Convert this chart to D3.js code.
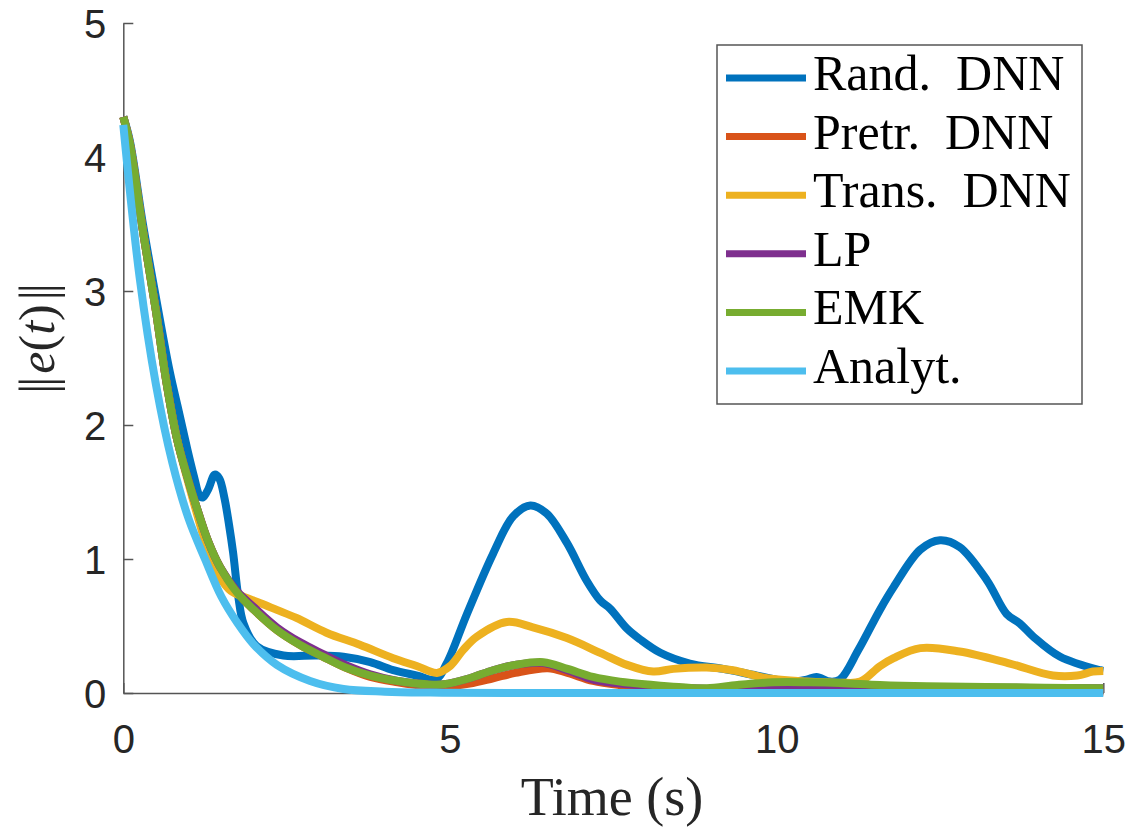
<!DOCTYPE html>
<html>
<head>
<meta charset="utf-8">
<script src="https://cdn.jsdelivr.net/npm/d3@7"></script>
<style>
  html, body { margin: 0; padding: 0; background: #fff; }
  svg { display: block; }
</style>
</head>
<body>
<div id="chart"></div>
<script>
// Values, one time array and one value array per series
var tRand = [0, 0.1, 0.3, 0.5, 0.71, 0.85, 0.97, 1.08, 1.17, 1.22, 1.3, 1.4, 1.47, 1.55, 1.62, 1.68, 1.76, 1.84, 2.04, 2.45, 2.96, 3.37, 3.78, 4.13, 4.5, 4.78, 4.95, 5.26, 5.66, 5.97, 6.23, 6.48, 6.79, 7.09, 7.3, 7.45, 7.71, 7.91, 8.22, 8.67, 9.18, 9.7, 10.2, 10.46, 10.61, 10.82, 10.97, 11.25, 11.58, 11.79, 12.2, 12.5, 12.8, 13.22, 13.52, 13.72, 13.93, 14.34, 14.95, 15];
var vRand = [4.3, 4.12, 3.5, 2.95, 2.4, 2.1, 1.84, 1.62, 1.47, 1.46, 1.52, 1.63, 1.6, 1.45, 1.25, 1.05, 0.72, 0.52, 0.35, 0.28, 0.28, 0.27, 0.23, 0.17, 0.13, 0.1, 0.22, 0.59, 1.04, 1.32, 1.4, 1.34, 1.12, 0.84, 0.69, 0.63, 0.48, 0.4, 0.3, 0.22, 0.18, 0.13, 0.085, 0.1, 0.12, 0.085, 0.1, 0.32, 0.62, 0.79, 1.07, 1.14, 1.09, 0.84, 0.59, 0.52, 0.42, 0.27, 0.17, 0.165];

var tPretr = [0, 0.1, 0.3, 0.5, 0.65, 0.82, 1.0, 1.12, 1.3, 1.48, 1.74, 2.0, 2.35, 2.7, 3.06, 3.4, 3.78, 4.2, 4.65, 4.9, 5.3, 5.66, 6.0, 6.5, 6.8, 7.19, 7.6, 8.11, 9.0, 10.0, 12.0, 15];
var vPretr = [4.3, 4.1, 3.45, 2.85, 2.35, 1.9, 1.58, 1.39, 1.13, 0.94, 0.75, 0.62, 0.47, 0.36, 0.27, 0.19, 0.12, 0.08, 0.05, 0.045, 0.07, 0.11, 0.15, 0.185, 0.15, 0.09, 0.06, 0.04, 0.025, 0.02, 0.015, 0.01];

var tTrans = [0, 0.1, 0.3, 0.5, 0.65, 0.82, 1.0, 1.12, 1.3, 1.48, 1.65, 1.83, 2.1, 2.35, 2.65, 3.11, 3.62, 4.13, 4.5, 4.8, 5.0, 5.2, 5.41, 5.87, 6.27, 6.79, 7.3, 7.71, 8.11, 8.42, 8.93, 9.33, 9.85, 10.46, 10.97, 11.28, 11.58, 11.79, 12.2, 12.8, 13.57, 14.23, 14.6, 14.84, 15];
var vTrans = [4.3, 4.1, 3.45, 2.85, 2.35, 1.9, 1.56, 1.35, 1.06, 0.86, 0.76, 0.72, 0.67, 0.62, 0.56, 0.45, 0.36, 0.26, 0.2, 0.15, 0.2, 0.32, 0.42, 0.53, 0.49, 0.41, 0.3, 0.21, 0.16, 0.18, 0.19, 0.17, 0.11, 0.085, 0.077, 0.085, 0.2, 0.26, 0.335, 0.31, 0.22, 0.13, 0.13, 0.16, 0.165];

var tLP = [0, 0.1, 0.3, 0.5, 0.65, 0.82, 1.0, 1.12, 1.3, 1.48, 1.74, 2.0, 2.35, 2.7, 3.06, 3.4, 3.78, 4.2, 4.65, 4.9, 5.3, 5.66, 6.0, 6.4, 6.8, 7.19, 7.6, 8.11, 9.0, 10.0, 11.0, 12.0, 13.0, 15];
var vLP = [4.3, 4.1, 3.45, 2.85, 2.35, 1.9, 1.58, 1.39, 1.13, 0.94, 0.76, 0.64, 0.49, 0.38, 0.29, 0.21, 0.14, 0.09, 0.065, 0.065, 0.11, 0.17, 0.21, 0.225, 0.17, 0.1, 0.07, 0.05, 0.03, 0.035, 0.04, 0.04, 0.04, 0.035];

var tEMK = [0, 0.1, 0.3, 0.5, 0.65, 0.82, 1.0, 1.12, 1.3, 1.48, 1.74, 2.0, 2.35, 2.7, 3.06, 3.4, 3.78, 4.2, 4.65, 4.9, 5.3, 5.66, 6.0, 6.43, 6.8, 7.19, 7.6, 8.11, 8.5, 8.93, 9.4, 9.95, 10.5, 10.97, 11.58, 12.3, 13.2, 14.1, 15];
var vEMK = [4.3, 4.1, 3.45, 2.85, 2.35, 1.9, 1.58, 1.39, 1.13, 0.94, 0.75, 0.62, 0.47, 0.36, 0.27, 0.19, 0.13, 0.09, 0.065, 0.065, 0.11, 0.17, 0.21, 0.23, 0.18, 0.12, 0.085, 0.06, 0.045, 0.035, 0.06, 0.08, 0.08, 0.075, 0.06, 0.05, 0.045, 0.04, 0.035];

var tAnalyt = [0, 0.25, 0.5, 0.75, 1.0, 1.25, 1.5, 1.75, 2.0, 2.35, 2.86, 3.37, 4.0, 4.7, 6.0, 15];
var vAnalyt = [4.24, 3.1, 2.3, 1.72, 1.3, 1.0, 0.72, 0.52, 0.36, 0.21, 0.09, 0.03, 0.01, 0.003, 0, 0];

var seriesNames = ['Rand.  DNN', 'Pretr.  DNN', 'Trans.  DNN', 'LP', 'EMK', 'Analyt.'];
var seriesTimes = [tRand, tPretr, tTrans, tLP, tEMK, tAnalyt];
var seriesValues = [vRand, vPretr, vTrans, vLP, vEMK, vAnalyt];
// MATLAB default line colours
var colors = ['#0072BD', '#D95319', '#EDB120', '#7E2F8E', '#77AC30', '#4DBEEE'];

var xTicks = [0, 5, 10, 15];
var yTicks = [0, 1, 2, 3, 4, 5];

(function() {
  var width = 1134, height = 832;
  var svg = d3.select('#chart').append('svg')
    .attr('width', width)
    .attr('height', height);

  // Plot box
  var plotLeft = 123.3, plotRight = 1103.3, plotTop = 23, plotBottom = 693;
  var x = d3.scaleLinear().domain([0, 15]).range([plotLeft, plotRight]);
  var y = d3.scaleLinear().domain([0, 5]).range([plotBottom, plotTop]);

  var axisColor = '#555';
  var tickFont = '"Liberation Sans", Arial, Helvetica, sans-serif';
  var serifFont = '"Liberation Serif", "Times New Roman", serif';

  // Axes: ticks pointing inwards, no box
  var xAxis = svg.append('g')
    .attr('transform', 'translate(0,' + plotBottom + ')')
    .call(d3.axisBottom(x).tickValues(xTicks).tickFormat(d3.format('d'))
      .tickSize(-10).tickPadding(32).tickSizeOuter(0));
  var yAxis = svg.append('g')
    .attr('transform', 'translate(' + plotLeft + ',0)')
    .call(d3.axisLeft(y).tickValues(yTicks).tickFormat(d3.format('d'))
      .tickSize(-10).tickPadding(17).tickSizeOuter(0));

  [xAxis, yAxis].forEach(function(a) {
    a.select('.domain').attr('stroke', axisColor).attr('stroke-width', 1.5);
    a.selectAll('.tick line').attr('stroke', axisColor).attr('stroke-width', 1.5);
    a.selectAll('.tick text')
      .attr('fill', '#262626')
      .style('font-family', tickFont)
      .style('font-size', '40px');
  });
  xAxis.selectAll('.tick text').attr('dy', '0.71em');
  yAxis.selectAll('.tick text').attr('dy', '0.36em');

  // Lines, drawn in MATLAB order so the later ones sit on top
  var line = d3.line()
    .x(function(d) { return x(d[0]); })
    .y(function(d) { return y(d[1]); })
    .curve(d3.curveCatmullRom.alpha(0.5));

  var plot = svg.append('g');
  seriesNames.forEach(function(name, i) {
    var pts = seriesTimes[i].map(function(t, j) { return [t, seriesValues[i][j]]; });
    plot.append('path')
      .datum(pts)
      .attr('fill', 'none')
      .attr('stroke', colors[i])
      .attr('stroke-width', 8)
      .attr('stroke-linejoin', 'round')
      .attr('stroke-linecap', 'butt')
      .attr('d', line);
  });

  // Axis titles
  svg.append('text')
    .attr('x', 612)
    .attr('y', 815)
    .attr('text-anchor', 'middle')
    .attr('fill', '#262626')
    .style('font-family', serifFont)
    .style('font-size', '54px')
    .text('Time (s)');

  var yLabel = svg.append('text')
    .attr('transform', 'translate(54,340) rotate(-90)')
    .attr('text-anchor', 'middle')
    .attr('fill', '#262626')
    .style('font-family', serifFont)
    .style('font-size', '50px');
  yLabel.append('tspan').style('letter-spacing', '-3px').text('||');
  yLabel.append('tspan').attr('dx', 6).style('font-style', 'italic').text('e');
  yLabel.append('tspan').text('(');
  yLabel.append('tspan').style('font-style', 'italic').text('t');
  yLabel.append('tspan').text(')');
  yLabel.append('tspan').attr('dx', 4).style('letter-spacing', '-3px').text('||');

  // Legend
  var legend = svg.append('g');
  legend.append('rect')
    .attr('x', 717).attr('y', 45)
    .attr('width', 365).attr('height', 359)
    .attr('fill', '#fff')
    .attr('stroke', axisColor)
    .attr('stroke-width', 1.5);

  var rowY = d3.scaleLinear().domain([0, 5]).range([78, 371]);
  seriesNames.forEach(function(name, i) {
    legend.append('line')
      .attr('x1', 726).attr('x2', 806)
      .attr('y1', rowY(i)).attr('y2', rowY(i))
      .attr('stroke', colors[i])
      .attr('stroke-width', 7);
    legend.append('text')
      .attr('x', 813)
      .attr('y', rowY(i) + 12)
      .attr('fill', '#000')
      .style('font-family', serifFont)
      .style('font-size', '50px')
      .style('white-space', 'pre')
      .text(name);
  });
})();
</script>
</body>
</html>
